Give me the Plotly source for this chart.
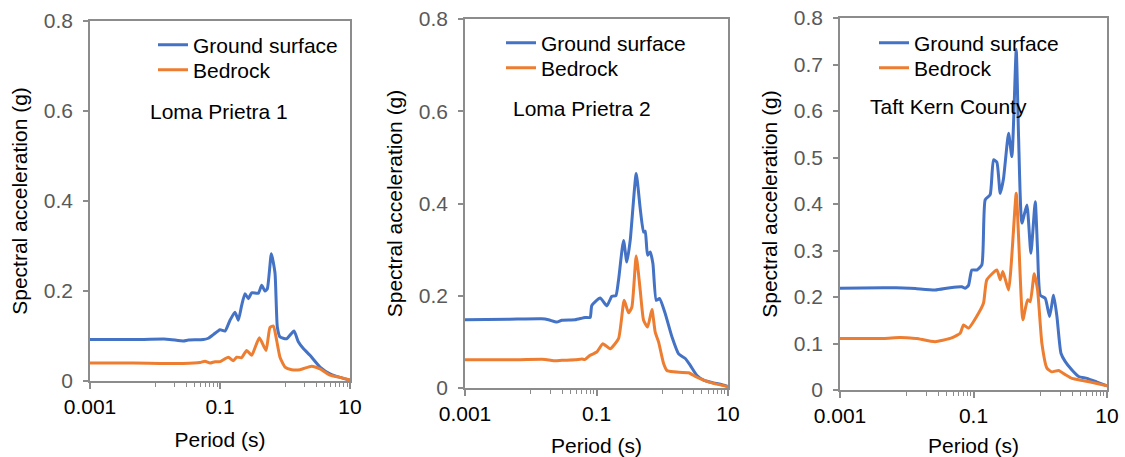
import plotly.graph_objects as go

BLUE = "#4472C4"
ORANGE = "#ED7D31"
AXIS_GRAY = "#8C8C8C"

series_names = ["Ground surface", "Bedrock"]
panel_titles = ["Loma Prietra 1", "Loma Prietra 2", "Taft Kern County"]

# ---- Panel 1: Loma Prietra 1 ----
p1_ground_period = [0.001, 0.0046, 0.0151, 0.0273, 0.0326, 0.0555, 0.0662, 0.0789, 0.1, 0.1194,
                    0.1426, 0.170, 0.1914, 0.2154, 0.2426, 0.2730, 0.3070, 0.389, 0.4377, 0.4923,
                    0.535, 0.6166, 0.7015, 0.762, 0.8374, 1.061, 1.374, 1.603, 1.915,
                    2.424, 3.455, 4.924, 7.017, 10]
p1_ground_sa = [0.092, 0.092, 0.093, 0.089, 0.091, 0.092, 0.095, 0.103, 0.114, 0.111,
                0.135, 0.153, 0.135, 0.168, 0.194, 0.183, 0.196, 0.195, 0.213, 0.200,
                0.205, 0.283, 0.240, 0.120, 0.098, 0.094, 0.111, 0.087, 0.072,
                0.057, 0.031, 0.016, 0.008, 0.002]
p1_bedrock_period = [0.001, 0.0046, 0.0273, 0.0492, 0.0588, 0.0702, 0.0838, 0.1, 0.1343, 0.1603,
                     0.1804, 0.2154, 0.2570, 0.3070, 0.4027, 0.5105, 0.5873, 0.6623, 0.7447, 0.8374,
                     1.0, 1.267, 1.702, 2.570, 3.455, 4.924, 7.017, 10]
p1_bedrock_sa = [0.040, 0.040, 0.039, 0.041, 0.044, 0.040, 0.043, 0.043, 0.053, 0.045,
                 0.053, 0.052, 0.068, 0.057, 0.096, 0.068, 0.119, 0.122, 0.090, 0.053,
                 0.031, 0.025, 0.025, 0.033, 0.027, 0.013, 0.008, 0.002]

# ---- Panel 2: Loma Prietra 2 ----
p2_ground_period = [0.001, 0.00457, 0.01472, 0.01858, 0.0249, 0.0297, 0.0473, 0.0672, 0.0801, 0.0849,
                    0.1137, 0.1436, 0.1713, 0.1969, 0.2163, 0.2576, 0.2895, 0.3256, 0.4018, 0.4624,
                    0.5200, 0.5510, 0.5978, 0.6561, 0.7211, 0.8106, 0.9100, 1.111, 1.403, 1.773,
                    2.239, 2.667, 3.370, 4.256, 6.05, 7.64, 10]
p2_ground_sa = [0.148, 0.149, 0.150, 0.148, 0.143, 0.147, 0.148, 0.153, 0.153, 0.179,
                0.195, 0.178, 0.199, 0.200, 0.234, 0.320, 0.273, 0.320, 0.465, 0.389,
                0.338, 0.340, 0.288, 0.295, 0.270, 0.190, 0.194, 0.161, 0.111, 0.074,
                0.064, 0.049, 0.027, 0.017, 0.011, 0.008, 0.003]
p2_bedrock_period = [0.001, 0.00457, 0.0165, 0.0235, 0.0297, 0.0473, 0.0598, 0.0672, 0.0801, 0.1011,
                     0.1249, 0.1614, 0.2163, 0.2637, 0.3069, 0.3450, 0.4018, 0.4624, 0.5200, 0.5978,
                     0.6966, 0.7816, 0.8790, 1.048, 1.178, 1.489, 2.518, 3.184, 4.256, 6.05, 10]
p2_bedrock_sa = [0.061, 0.061, 0.062, 0.059, 0.060, 0.061, 0.063, 0.062, 0.071, 0.078,
                 0.096, 0.085, 0.107, 0.190, 0.163, 0.175, 0.286, 0.212, 0.147, 0.132,
                 0.170, 0.121, 0.100, 0.053, 0.038, 0.035, 0.033, 0.025, 0.017, 0.010, 0.003]

# ---- Panel 3: Taft Kern County ----
p3_ground_period = [0.001, 0.00447, 0.0112, 0.0141, 0.0266, 0.0447, 0.0668, 0.0750, 0.0841, 0.0944,
                    0.1122, 0.1334, 0.1496, 0.1778, 0.1995, 0.2239, 0.2512, 0.2818, 0.3350, 0.3758,
                    0.4365, 0.4732, 0.5309, 0.6310, 0.7244, 0.8414, 0.912, 1.0, 1.189, 1.380,
                    1.585, 1.778, 2.042, 2.371, 2.985, 3.758, 5.012, 7.079, 10]
p3_ground_sa = [0.219, 0.220, 0.219, 0.218, 0.215, 0.220, 0.222, 0.219, 0.225, 0.258,
                0.258, 0.269, 0.409, 0.420, 0.495, 0.490, 0.423, 0.455, 0.552, 0.502,
                0.732, 0.545, 0.359, 0.398, 0.294, 0.405, 0.300, 0.204, 0.197, 0.158,
                0.204, 0.158, 0.079, 0.061, 0.043, 0.029, 0.025, 0.017, 0.009]
p3_bedrock_period = [0.001, 0.00447, 0.00794, 0.0112, 0.0141, 0.0266, 0.0447, 0.0631, 0.0708, 0.0841,
                     0.1189, 0.1413, 0.1585, 0.2239, 0.2512, 0.2754, 0.3350, 0.4365, 0.4732, 0.5495,
                     0.6457, 0.7079, 0.8128, 0.912, 1.059, 1.259, 1.496, 1.884, 2.371, 2.985,
                     4.467, 7.079, 10]
p3_bedrock_sa = [0.111, 0.111, 0.113, 0.112, 0.111, 0.104, 0.111, 0.122, 0.140, 0.133,
                 0.165, 0.187, 0.237, 0.258, 0.237, 0.255, 0.215, 0.423, 0.330, 0.151,
                 0.194, 0.190, 0.250, 0.215, 0.100, 0.047, 0.039, 0.042, 0.033, 0.025,
                 0.020, 0.014, 0.009]

x_major_ticks = [0.001, 0.1, 10]
x_tick_labels = ["0.001", "0.1", "10"]
x_minor_ticks = [0.01, 0.02, 0.03, 0.04, 0.05, 0.06, 0.07, 0.08, 0.09,
                 1, 2, 3, 4, 5, 6, 7, 8, 9]
y_ticks_12 = [0, 0.2, 0.4, 0.6, 0.8]
y_tick_labels_12 = ["0", "0.2", "0.4", "0.6", "0.8"]
y_ticks_3 = [0, 0.1, 0.2, 0.3, 0.4, 0.5, 0.6, 0.7, 0.8]
y_tick_labels_3 = ["0", "0.1", "0.2", "0.3", "0.4", "0.5", "0.6", "0.7", "0.8"]

W, H = 1125, 457
FONT = "Liberation Sans, Arial, sans-serif"
FS = 21

# plot areas in pixels: (left, right, top, bottom)
boxes = [(90, 350, 21, 381), (465, 728, 19, 388), (840, 1107, 18, 390)]
# legend: x of legend box, y-centre of the two entries
legend_x = [153, 501, 874]
legend_y = [(45, 70), (43, 68), (43, 68)]
title_pos = [(219, 111), (582, 108), (949, 106)]

panels = [
    (p1_ground_period, p1_ground_sa, p1_bedrock_period, p1_bedrock_sa, y_ticks_12, y_tick_labels_12),
    (p2_ground_period, p2_ground_sa, p2_bedrock_period, p2_bedrock_sa, y_ticks_12, y_tick_labels_12),
    (p3_ground_period, p3_ground_sa, p3_bedrock_period, p3_bedrock_sa, y_ticks_3, y_tick_labels_3),
]

fig = go.Figure()
layout = dict(
    width=W, height=H,
    margin=dict(l=0, r=0, t=0, b=0, autoexpand=False),
    paper_bgcolor="white", plot_bgcolor="white",
    font=dict(family=FONT, size=FS, color="black"),
    showlegend=True,
    annotations=[],
)

legend_count = 0
for i, (gx, gy, bx, by, yt, ytl) in enumerate(panels):
    n = "" if i == 0 else str(i + 1)
    series = [(gx, gy, BLUE), (bx, by, ORANGE)]
    for k, (sx, sy, col) in enumerate(series):
        legend_count += 1
        leg = "legend" if legend_count == 1 else "legend%d" % legend_count
        fig.add_trace(go.Scatter(x=sx, y=sy, mode="lines", name=series_names[k],
                                 line=dict(color=col, width=3, shape="spline", smoothing=0.5),
                                 xaxis="x" + n, yaxis="y" + n, legend=leg))
        layout[leg] = dict(
            x=legend_x[i] / W, y=1 - legend_y[i][k] / H, xanchor="left", yanchor="middle",
            bgcolor="rgba(0,0,0,0)", borderwidth=0,
            font=dict(size=FS, color="black"), itemwidth=30,
        )
    l, r, t, b = boxes[i]
    layout["xaxis" + n] = dict(
        domain=[l / W, r / W], anchor="y" + n, type="log", range=[-3, 1], automargin=False,
        showgrid=False, zeroline=False, showline=True, linecolor=AXIS_GRAY, linewidth=1.5,
        mirror=True, ticks="outside", ticklen=6, tickwidth=1.5, tickcolor=AXIS_GRAY,
        tickmode="array", tickvals=x_major_ticks, ticktext=x_tick_labels,
        tickfont=dict(size=FS, color="black"),
        minor=dict(tickmode="array", tickvals=x_minor_ticks, ticks="outside", ticklen=4,
                   tickwidth=1.2, tickcolor=AXIS_GRAY, showgrid=False),
        title=dict(text="Period (s)", font=dict(size=FS, color="black"), standoff=15),
    )
    layout["yaxis" + n] = dict(
        domain=[1 - b / H, 1 - t / H], anchor="x" + n, range=[0, 0.8], automargin=False,
        showgrid=False, zeroline=False, showline=True, linecolor=AXIS_GRAY, linewidth=1.5,
        mirror=True, ticks="outside", ticklen=5, tickwidth=1.5, tickcolor=AXIS_GRAY,
        tickmode="array", tickvals=yt, ticktext=ytl,
        tickfont=dict(size=FS, color="#595959"), ticklabelstandoff=6,
        title=dict(text="Spectral acceleration (g)", font=dict(size=FS, color="black"), standoff=10),
    )
    tx, ty = title_pos[i]
    layout["annotations"].append(dict(
        text=panel_titles[i], xref="paper", yref="paper", x=tx / W, y=1 - ty / H,
        xanchor="center", yanchor="middle", showarrow=False,
        font=dict(size=FS, color="black"),
    ))

fig.update_layout(**layout)
fig.write_html("out.html")
